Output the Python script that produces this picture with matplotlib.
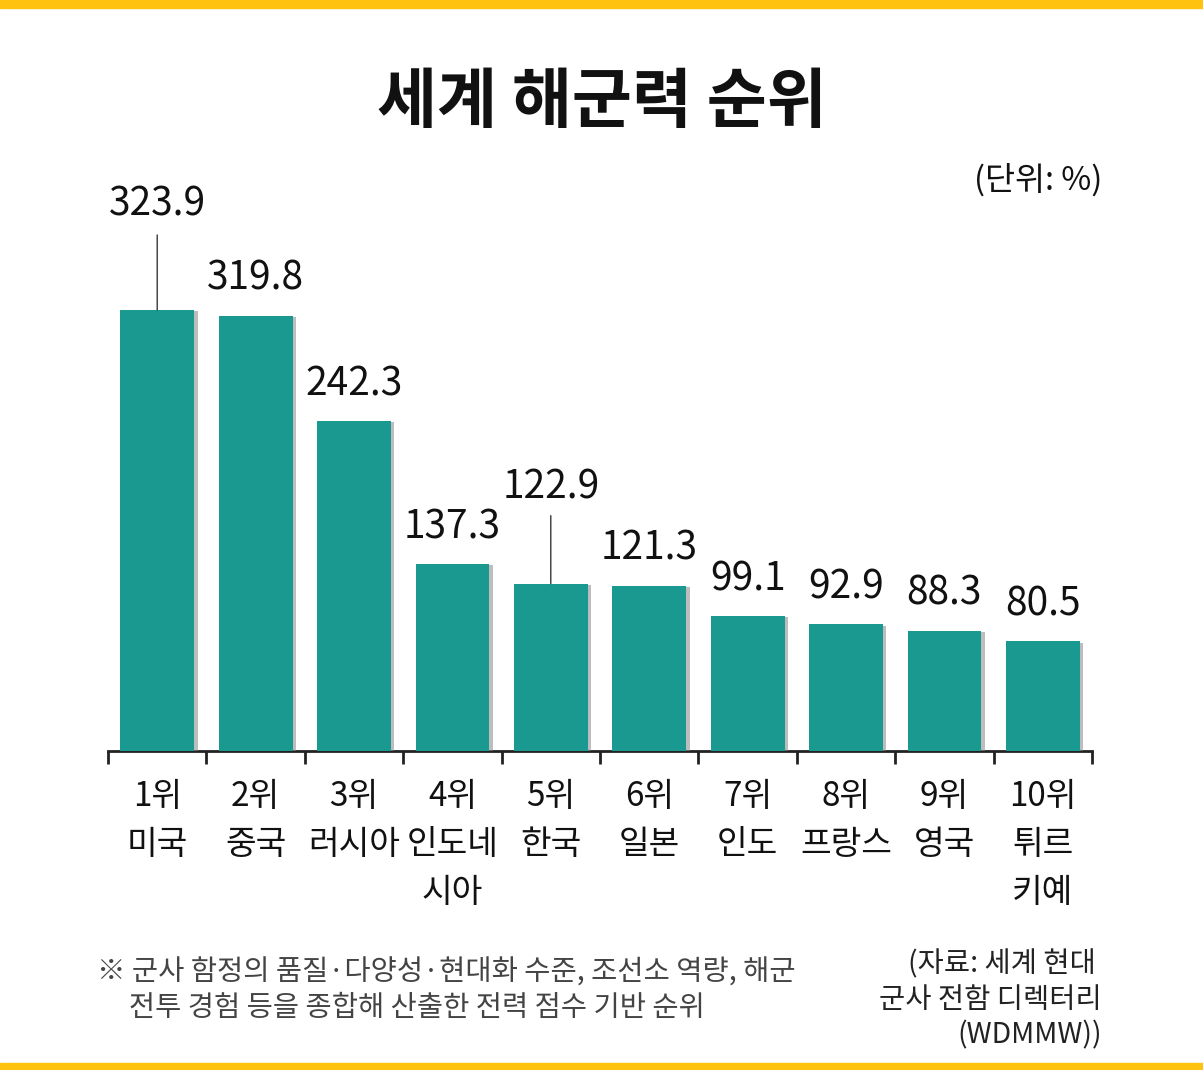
import matplotlib
matplotlib.use('Agg')
import matplotlib.pyplot as plt
import matplotlib.patheffects as pe
from matplotlib.patches import Rectangle
import numpy as np

plt.rcParams['font.family'] = ['Noto Sans CJK KR', 'DejaVu Sans']

ranks = ['1위', '2위', '3위', '4위', '5위', '6위', '7위', '8위', '9위', '10위']
names = ['미국', '중국', '러시아', '인도네\n시아', '한국', '일본', '인도', '프랑스', '영국', '튀르\n키예']
scores = [323.9, 319.8, 242.3, 137.3, 122.9, 121.3, 99.1, 92.9, 88.3, 80.5]

title = '세계 해군력 순위'
unit = '(단위: %)'
note = '※ 군사 함정의 품질·다양성·현대화 수준, 조선소 역량, 해군\n     전투 경험 등을 종합해 산출한 전력 점수 기반 순위'
source = '(자료: 세계 현대 \n군사 전함 디렉터리\n(WDMMW))'

bar_color = '#1a9990'
yellow = '#ffc20e'

W, H = 1203, 1070
fig = plt.figure(figsize=(W/100, H/100), dpi=100)
fig.patches.append(Rectangle((0, 1-8/H), 1, 8/H, transform=fig.transFigure, color=yellow, zorder=0))
fig.patches.append(Rectangle((0, 0), 1, 7/H, transform=fig.transFigure, color=yellow, zorder=0))

ax = fig.add_axes([108/W, 319/H, 984/W, 591/H])
x = np.arange(len(scores))
bars = ax.bar(x, scores, width=0.75, color=bar_color, zorder=3)
for b in bars:
    b.set_path_effects([pe.SimplePatchShadow(offset=(2.5, -1), shadow_rgbFace='#888888', alpha=0.55),
                        pe.Normal()])

ax.set_xlim(-0.5, len(scores)-0.5)
ax.set_ylim(0, 434)

# label offsets in points (two bars get a leader line)
leader = {0: 75, 4: 68}
for i, v in enumerate(scores):
    if i in leader:
        off = leader[i]
        ax.annotate('', xy=(i, v), xytext=(0, off/1.389), textcoords='offset points',
                    arrowprops=dict(arrowstyle='-', color='#222222', lw=0.9, shrinkA=0, shrinkB=0))
        ax.annotate(f'{v}', xy=(i, v), xytext=(0, (off+30)/1.389 if i == 0 else (off+28)/1.389),
                    textcoords='offset points', ha='center', va='center', fontsize=28, color='#111111')
    else:
        ax.annotate(f'{v}', xy=(i, v), xytext=(0, 37/1.389), textcoords='offset points',
                    ha='center', va='center', fontsize=28, color='#111111')

for s in ['top', 'right', 'left']:
    ax.spines[s].set_visible(False)
ax.spines['bottom'].set_color('#222222')
ax.spines['bottom'].set_linewidth(2)
ax.set_yticks([])
ax.set_xticks(x)
ax.set_xticklabels([f'{r}\n{n}' for r, n in zip(ranks, names)], fontsize=24, color='#111111')
ax.tick_params(axis='x', which='major', length=0, pad=20)
ax.set_xticks(np.arange(-0.5, len(scores)), minor=True)
ax.tick_params(axis='x', which='minor', length=9, width=2, color='#222222', direction='out')
for lab in ax.get_xticklabels():
    lab.set_linespacing(1.48)
    lab.set_verticalalignment('top')

fig.text(0.5, 1-103/H, title, ha='center', va='center', fontsize=47, fontweight='bold', color='#111111')
fig.text(1102/W, 1-180/H, unit, ha='right', va='center', fontsize=23.5, color='#111111')
fig.text(97/W, 1-990/H, note, ha='left', va='center', fontsize=20.5, color='#444444', linespacing=1.25)
fig.text(1102/W, 1-1000/H, source, ha='right', va='center', fontsize=20.5, color='#222222', linespacing=1.25, multialignment='right')

fig.savefig('out.png', dpi=100)
